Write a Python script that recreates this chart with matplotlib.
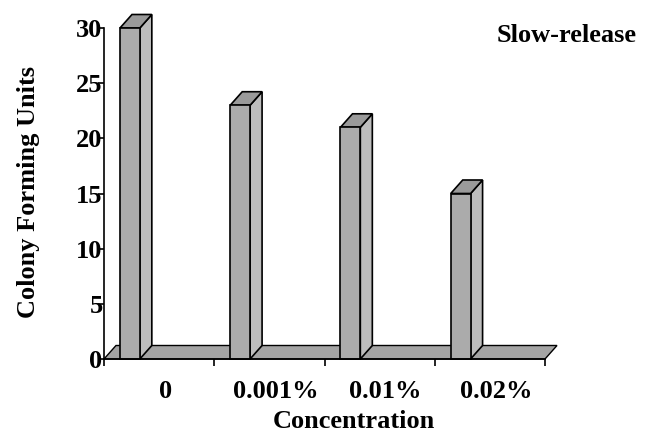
import numpy as np
import matplotlib
matplotlib.use("Agg")
import matplotlib.pyplot as plt
from matplotlib.patches import Polygon

categories = ['0', '0.001%', '0.01%', '0.02%']
cfu = [30, 23, 21, 15]

plt.rcParams['font.family'] = ['Liberation Serif', 'DejaVu Serif']
plt.rcParams['font.weight'] = 'bold'

W, H = 647, 436
fig = plt.figure(figsize=(W / 100, H / 100), dpi=100)
# axes box in pixels: x 104..545, y 28..359
ax = fig.add_axes([104 / W, (H - 359) / H, 441 / W, 331 / H])
ax.set_xlim(0, len(categories))
ax.set_ylim(0, 30)

# 3d depth offset (about 12 px right, 13.5 px up)
dx = 12 / 110.25
dy = 13.5 / 11.03
bar_off = 0.145
bar_w = 0.18

front_c = '#ababab'
side_c = '#bdbdbd'
top_c = '#9a9a9a'
floor_c = '#a4a4a4'

n = len(categories)
floor = Polygon([(0, 0), (n, 0), (n + dx, dy), (dx, dy)], closed=True,
                facecolor=floor_c, edgecolor='black', lw=1.0, clip_on=False, zorder=2)
ax.add_patch(floor)

for i, v in enumerate(cfu):
    x0 = i + bar_off
    x1 = x0 + bar_w
    front = Polygon([(x0, 0), (x1, 0), (x1, v), (x0, v)], closed=True,
                    facecolor=front_c, edgecolor='black', lw=1.2, clip_on=False, zorder=4)
    side = Polygon([(x1, 0), (x1 + dx, dy), (x1 + dx, v + dy), (x1, v)], closed=True,
                   facecolor=side_c, edgecolor='black', lw=1.2, clip_on=False, zorder=3)
    top = Polygon([(x0, v), (x1, v), (x1 + dx, v + dy), (x0 + dx, v + dy)], closed=True,
                  facecolor=top_c, edgecolor='black', lw=1.2, clip_on=False, zorder=3)
    ax.add_patch(side)
    ax.add_patch(top)
    ax.add_patch(front)

for s in ['top', 'right']:
    ax.spines[s].set_visible(False)
ax.spines['left'].set_linewidth(1.2)
ax.spines['bottom'].set_linewidth(1.2)
ax.spines['bottom'].set_zorder(5)

ax.set_yticks(np.arange(0, 31, 5))
ax.set_xticks(np.arange(0, n + 1))
ax.set_xticklabels([])
# labels sit a bit right of the category centre in the original
ax.set_xticks(np.arange(n) + 0.555, minor=True)
ax.set_xticklabels(categories, minor=True, fontsize=19, fontweight='bold')
ax.tick_params(axis='x', which='minor', length=0, pad=15)
ax.tick_params(axis='x', which='major', length=5, width=1.2, direction='out')
ax.tick_params(axis='y', length=4, width=1.2, direction='out', pad=-3, labelsize=19)
for t in ax.get_yticklabels():
    t.set_fontweight('bold')

ax.set_xlabel('Concentration', fontsize=19, fontweight='bold')
ax.xaxis.label.set_va('center')
ax.xaxis.set_label_coords((354 - 104) / 441, (359 - 421) / 331)
ax.set_ylabel('Colony Forming Units', fontsize=19, fontweight='bold')
ax.yaxis.label.set_va('center')
ax.yaxis.set_label_coords((29 - 104) / 441, (359 - 192) / 331)
fig.text(567 / W, 1 - 36 / H, 'Slow-release', fontsize=19, fontweight='bold',
         ha='center', va='center')

fig.savefig('out.png', dpi=100)
